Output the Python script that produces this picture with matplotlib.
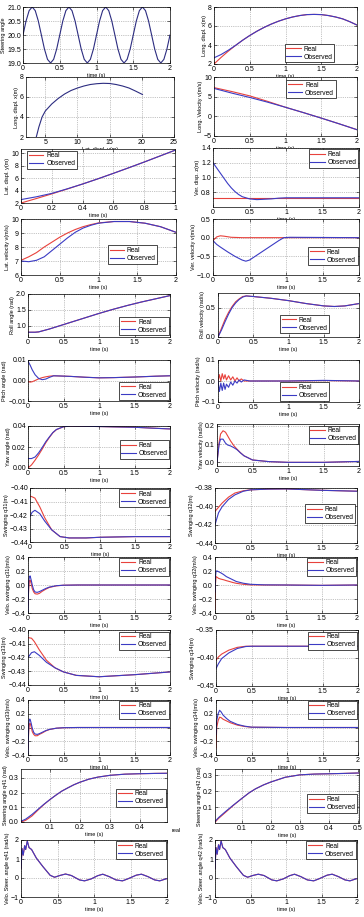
import numpy as np
import matplotlib
matplotlib.use('Agg')
import matplotlib.pyplot as plt

plt.rcParams['font.family'] = ['Liberation Sans', 'DejaVu Sans']

# ---------------- data ----------------
# row 1 left: steering angle vs time
t_steer = np.linspace(0, 2, 49)
steer = [20, 20.5, 20.87, 21, 20.87, 20.5, 20, 19.5, 19.13, 19, 19.13, 19.5,
         20, 20.5, 20.87, 21, 20.87, 20.5, 20, 19.5, 19.13, 19, 19.13, 19.5,
         20, 20.5, 20.87, 21, 20.87, 20.5, 20, 19.5, 19.13, 19, 19.13, 19.5,
         20, 20.5, 20.87, 21, 20.87, 20.5, 20, 19.5, 19.13, 19, 19.13, 19.5, 20]

# row 1 right: long. displ vs time
t_lx = [0, 0.1, 0.2, 0.3, 0.4, 0.5, 0.6, 0.7, 0.8, 0.9, 1.0, 1.1, 1.2, 1.3, 1.4, 1.5, 1.6, 1.7, 1.8, 1.9, 2.0]
lx_real = [2.0, 2.7, 3.35, 3.95, 4.5, 5.0, 5.45, 5.85, 6.2, 6.5, 6.75, 6.95, 7.1, 7.2, 7.22, 7.2, 7.1, 6.95, 6.75, 6.45, 6.1]
lx_obs = [2.65, 3.0, 3.45, 3.95, 4.5, 5.0, 5.45, 5.85, 6.2, 6.5, 6.75, 6.95, 7.1, 7.2, 7.22, 7.2, 7.1, 6.95, 6.75, 6.45, 6.1]

# row 2 left: long. displ vs lat. displ
traj_y = [3.6, 4.0, 4.5, 5, 6, 7, 8, 9, 10, 11, 12, 13, 14, 15, 16, 17, 18, 19, 20.1]
traj_x = [2.0, 3.0, 4.0, 4.6, 5.3, 5.85, 6.3, 6.65, 6.9, 7.1, 7.25, 7.33, 7.37, 7.35, 7.25, 7.1, 6.9, 6.6, 6.25]

# row 2 right: long. velocity
t_lv = [0, 0.25, 0.5, 0.75, 1.0, 1.25, 1.5, 1.75, 2.0]
lv_real = [7.3, 6.3, 5.2, 3.8, 2.3, 0.95, -0.45, -1.9, -3.4]
lv_obs = [7.1, 5.9, 4.8, 3.6, 2.3, 0.95, -0.45, -1.9, -3.4]

# row 3 left: lat. displ vs time
t_ly = [0, 0.1, 0.2, 0.3, 0.4, 0.5, 0.6, 0.7, 0.8, 0.9, 1.0]
ly_real = [2.0, 2.72, 3.47, 4.25, 5.06, 5.9, 6.78, 7.68, 8.6, 9.55, 10.5]
ly_obs = [2.55, 3.0, 3.55, 4.28, 5.06, 5.9, 6.78, 7.68, 8.6, 9.55, 10.5]

# row 3 right: vertical displ
t_vz_obs = [0, 0.05, 0.1, 0.15, 0.2, 0.25, 0.3, 0.35, 0.4, 0.5, 0.6, 0.7, 0.8, 0.9, 1.0, 2.0]
vz_obs = [1.2, 1.13, 1.06, 0.99, 0.92, 0.86, 0.81, 0.77, 0.74, 0.71, 0.7, 0.705, 0.71, 0.72, 0.725, 0.725]
t_vz_real = [0, 2.0]
vz_real = [0.725, 0.725]

# row 4 left: lat. velocity
t_latv = [0, 0.1, 0.2, 0.3, 0.4, 0.5, 0.6, 0.7, 0.8, 0.9, 1.0, 1.2, 1.4, 1.6, 1.8, 2.0]
latv_real = [7.05, 7.3, 7.6, 8.0, 8.35, 8.7, 9.0, 9.25, 9.45, 9.6, 9.72, 9.82, 9.82, 9.7, 9.45, 9.05]
latv_obs = [7.0, 6.95, 7.05, 7.3, 7.75, 8.2, 8.65, 9.05, 9.35, 9.55, 9.7, 9.82, 9.82, 9.7, 9.45, 9.05]

# row 4 right: vertical velocity
t_vv_obs = [0, 0.05, 0.1, 0.2, 0.3, 0.4, 0.45, 0.5, 0.6, 0.7, 0.8, 0.9, 0.97, 1.05, 2.0]
vv_obs = [-0.08, -0.18, -0.25, -0.38, -0.5, -0.6, -0.63, -0.6, -0.47, -0.34, -0.21, -0.08, 0.0, 0.01, 0.0]
t_vv_real = [0, 0.05, 0.1, 0.15, 0.25, 0.4, 2.0]
vv_real = [-0.08, 0.02, 0.05, 0.04, 0.01, 0.0, 0.0]

# row 5 left: roll angle
t_roll = [0, 0.1, 0.15, 0.2, 0.3, 0.4, 0.5, 0.6, 0.7, 0.8, 0.9, 1.0, 1.2, 1.4, 1.6, 1.8, 2.0]
roll = [0.8, 0.8, 0.81, 0.84, 0.9, 0.97, 1.04, 1.11, 1.18, 1.25, 1.32, 1.39, 1.52, 1.64, 1.75, 1.85, 1.95]

# row 5 right: roll velocity
t_rollv = [0, 0.05, 0.1, 0.15, 0.2, 0.25, 0.3, 0.35, 0.4, 0.5, 0.75, 1.0, 1.25, 1.5, 1.65, 1.8, 2.0]
rollv_real = [0, 0.15, 0.3, 0.42, 0.52, 0.6, 0.65, 0.69, 0.7, 0.69, 0.66, 0.62, 0.57, 0.53, 0.52, 0.53, 0.57]
rollv_obs = [0, 0.12, 0.26, 0.39, 0.5, 0.58, 0.64, 0.68, 0.7, 0.69, 0.66, 0.62, 0.57, 0.53, 0.52, 0.53, 0.57]

# row 6 left: pitch angle
t_pitch = [0, 0.03, 0.06, 0.1, 0.15, 0.2, 0.25, 0.3, 0.36, 0.45, 0.6, 0.8, 1.0, 1.2, 1.5, 1.8, 2.0]
pitch_real = [-0.0005, -0.0008, -0.0006, 0.0, 0.0008, 0.0014, 0.0018, 0.0021, 0.0023, 0.0022, 0.002,
              0.0016, 0.0013, 0.0014, 0.0017, 0.0021, 0.0023]
pitch_obs = [0.0095, 0.0075, 0.0052, 0.0028, 0.001, 0.0004, 0.0007, 0.0015, 0.0023, 0.0022, 0.002,
             0.0016, 0.0013, 0.0014, 0.0017, 0.0021, 0.0023]

# row 6 right: pitch velocity
t_pv = [0, 0.02, 0.04, 0.06, 0.08, 0.1, 0.12, 0.15, 0.18, 0.21, 0.24, 0.27, 0.3, 0.33, 0.37, 0.45, 1.0, 1.5, 2.0]
pv_real = [0, 0.03, 0.0, 0.035, 0.01, 0.03, 0.005, 0.025, 0.005, 0.02, 0.0, 0.015, 0.0, 0.01, 0.0, 0.0, 0.0, 0.002, 0.0]
pv_obs = [0, -0.05, -0.01, -0.045, -0.01, -0.04, -0.015, -0.03, -0.005, -0.02, 0.0, -0.01, 0.005, -0.005,
          0.005, 0.0, 0.0, 0.003, 0.0]

# row 7 left: yaw angle
t_yaw = [0, 0.05, 0.1, 0.15, 0.2, 0.25, 0.3, 0.35, 0.4, 0.5, 0.6, 0.8, 1.0, 1.2, 1.5, 1.8, 2.0]
yaw_real = [0, 0.003, 0.0075, 0.0125, 0.018, 0.024, 0.029, 0.0335, 0.0365, 0.0393, 0.04, 0.0398, 0.0395,
            0.0392, 0.0388, 0.0378, 0.0372]
yaw_obs = [0.009, 0.009, 0.0105, 0.0145, 0.0195, 0.025, 0.0295, 0.0338, 0.0367, 0.0393, 0.04, 0.0398, 0.0395,
           0.0392, 0.0388, 0.0378, 0.0372]

# row 7 right: yaw velocity
t_yv = [0, 0.03, 0.05, 0.085, 0.12, 0.15, 0.19, 0.24, 0.28, 0.33, 0.38, 0.5, 0.73, 1.0, 1.5, 2.0]
yv_real = [0, 0.11, 0.155, 0.173, 0.165, 0.145, 0.118, 0.09, 0.073, 0.053, 0.036, 0.013, 0.004, 0.0, 0.0, 0.005]
yv_obs = [0, 0.1, 0.127, 0.127, 0.105, 0.095, 0.09, 0.08, 0.07, 0.052, 0.036, 0.013, 0.004, 0.0, 0.0, 0.005]

# row 8: swinging q31 / q32
t_q = [0, 0.03, 0.07, 0.14, 0.21, 0.31, 0.43, 0.56, 0.8, 1.0, 1.5, 2.0]
q31_real = [-0.406, -0.4065, -0.4075, -0.414, -0.422, -0.431, -0.436, -0.437, -0.437, -0.4365, -0.436, -0.436]
q31_obs = [-0.421, -0.418, -0.4165, -0.419, -0.4245, -0.431, -0.436, -0.437, -0.437, -0.4365, -0.436, -0.436]
t_q2 = [0, 0.05, 0.1, 0.19, 0.28, 0.4, 0.5, 0.75, 1.0, 1.5, 2.0]
q32_real = [-0.4055, -0.401, -0.3965, -0.39, -0.3855, -0.383, -0.382, -0.3812, -0.381, -0.3825, -0.3835]
q32_obs = [-0.42, -0.407, -0.4005, -0.3925, -0.3875, -0.3835, -0.382, -0.3812, -0.381, -0.3825, -0.3835]

# row 9: velocity of q31 / q32
t_dq = [0, 0.01, 0.02, 0.03, 0.045, 0.06, 0.08, 0.1, 0.13, 0.16, 0.2, 0.25, 0.3, 0.4, 0.5, 0.7, 1.0, 2.0]
dq31_real = [-0.28, -0.05, 0.06, 0.07, 0.02, -0.05, -0.1, -0.125, -0.13, -0.12, -0.09, -0.06, -0.035, -0.012,
             -0.003, 0, 0, 0]
dq31_obs = [-0.38, 0.05, 0.12, 0.13, 0.07, 0.0, -0.07, -0.1, -0.105, -0.095, -0.075, -0.05, -0.03, -0.01,
            -0.003, 0, 0, 0]
t_dq2 = [0, 0.005, 0.015, 0.03, 0.05, 0.08, 0.12, 0.16, 0.21, 0.25, 0.3, 0.4, 0.5, 0.7, 1.0, 1.5, 2.0]
dq32_real = [-0.35, 0.0, 0.12, 0.11, 0.095, 0.085, 0.075, 0.062, 0.048, 0.036, 0.024, 0.01, 0.002, 0, 0, -0.005, 0]
dq32_obs = [-0.1, 0.1, 0.2, 0.2, 0.19, 0.175, 0.15, 0.12, 0.095, 0.075, 0.05, 0.025, 0.01, 0.002, 0, -0.005, 0]

# row 10: swinging q33 / q34
t_q3 = [0, 0.05, 0.09, 0.16, 0.26, 0.38, 0.5, 0.68, 1.0, 1.5, 2.0]
q33_real = [-0.4055, -0.406, -0.4085, -0.4145, -0.422, -0.4275, -0.4305, -0.433, -0.434, -0.4325, -0.4305]
q33_obs = [-0.42, -0.4165, -0.4158, -0.4185, -0.4235, -0.4275, -0.4305, -0.433, -0.434, -0.4325, -0.4305]
t_q4 = [0, 0.035, 0.08, 0.18, 0.3, 0.42, 0.5, 1.0, 1.5, 2.0]
q34_real = [-0.404, -0.398, -0.393, -0.386, -0.381, -0.379, -0.379, -0.379, -0.379, -0.379]
q34_obs = [-0.419, -0.41, -0.401, -0.391, -0.383, -0.3795, -0.379, -0.379, -0.379, -0.379]

# row 11: velocity of q33 / q34
dq33_real = [-0.3, -0.05, 0.05, 0.06, 0.01, -0.06, -0.1, -0.12, -0.12, -0.1, -0.08, -0.05, -0.03, -0.01,
             -0.003, 0, 0, 0]
dq33_obs = [-0.38, 0.05, 0.12, 0.12, 0.06, -0.01, -0.07, -0.095, -0.1, -0.09, -0.07, -0.045, -0.028, -0.01,
            -0.003, 0, 0, 0]
t_dq4 = [0, 0.01, 0.03, 0.05, 0.07, 0.1, 0.15, 0.2, 0.3, 0.4, 0.5, 1.0, 2.0]
dq34_real = [-0.3, 0.0, 0.1, 0.15, 0.145, 0.12, 0.095, 0.07, 0.035, 0.015, 0.004, 0, 0]
dq34_obs = [-0.1, 0.1, 0.2, 0.25, 0.23, 0.18, 0.13, 0.09, 0.045, 0.02, 0.005, 0, 0]

# row 12: steering angle q41 / q42
t_st = [0.004, 0.02, 0.04, 0.06, 0.08, 0.1, 0.12, 0.14, 0.16, 0.18, 0.2, 0.23, 0.26, 0.3, 0.35, 0.4, 0.45, 0.49]
q41_real = [0.0, 0.012, 0.04, 0.08, 0.118, 0.152, 0.182, 0.21, 0.232, 0.253, 0.27, 0.291, 0.305, 0.317,
            0.325, 0.328, 0.33, 0.331]
q41_obs = [0.005, 0.02, 0.05, 0.085, 0.12, 0.152, 0.182, 0.21, 0.232, 0.253, 0.27, 0.291, 0.305, 0.317,
           0.325, 0.328, 0.33, 0.331]
t_st2 = [0.007, 0.02, 0.042, 0.07, 0.1, 0.125, 0.147, 0.175, 0.2, 0.25, 0.3, 0.35, 0.4, 0.45, 0.505]
q42_real = [0.005, 0.03, 0.065, 0.11, 0.155, 0.19, 0.215, 0.24, 0.258, 0.288, 0.303, 0.308, 0.31, 0.312, 0.315]
q42_obs = [0.01, 0.035, 0.07, 0.112, 0.155, 0.19, 0.215, 0.24, 0.258, 0.288, 0.303, 0.308, 0.31, 0.312, 0.315]

# row 13: steering angle velocity q41 / q42
t_dst = [0, 0.014, 0.03, 0.05, 0.064, 0.086, 0.11, 0.145, 0.21, 0.3, 0.4, 0.46, 0.53, 0.61, 0.69, 0.8, 0.87,
         0.96, 1.05, 1.12, 1.21, 1.3, 1.39, 1.46, 1.58, 1.65, 1.74, 1.83, 1.9, 2.0]
dq41 = [0.5, 1.55, 1.2, 1.7, 1.5, 1.95, 1.6, 1.5, 1.05, 0.6, 0.14, 0.04, 0.13, 0.21, 0.13, -0.1, -0.15,
        -0.05, 0.12, 0.2, 0.07, -0.1, -0.15, -0.05, 0.15, 0.2, 0.07, -0.1, -0.15, -0.03]
dq42 = [0.5, 1.6, 1.25, 1.75, 1.5, 1.95, 1.6, 1.5, 1.05, 0.6, 0.14, 0.04, 0.13, 0.2, 0.13, -0.1, -0.15,
        -0.05, 0.12, 0.2, 0.07, -0.1, -0.15, -0.05, 0.15, 0.2, 0.07, -0.1, -0.15, -0.03]

# ---------------- drawing ----------------
RED = '#e8423c'
BLUE = '#3b3bc4'
NAVY = '#2c2c80'
W, H = 364.0, 917.0

fig = plt.figure(figsize=(3.64, 9.17), dpi=100)
fig.patch.set_facecolor('white')


def panel(box, ylabel, xlabel, xlim, ylim, xticks, yticks, curves, leg=None, xtl=None):
    x0, x1, top, bot = box
    ax = fig.add_axes([x0 / W, 1 - bot / H, (x1 - x0) / W, (bot - top) / H])
    for xs, ys, c in curves:
        ax.plot(xs, ys, color=c, lw=0.8)
    ax.set_xlim(xlim)
    ax.set_ylim(ylim)
    ax.set_xticks(xticks)
    if xtl is not None:
        ax.set_xticklabels(xtl)
    ax.set_yticks(yticks)
    ax.grid(True, ls=':', color='#8c8c8c', lw=0.5)
    ax.tick_params(direction='in', length=2, width=0.4, labelsize=5, pad=1.5, top=True, right=True)
    for s in ax.spines.values():
        s.set_linewidth(0.5)
    ax.set_ylabel(ylabel, fontsize=4, labelpad=1)
    if xlabel:
        ax.set_xlabel(xlabel, fontsize=4, labelpad=1)
    if leg is not None:
        loc, anchor = leg
        lg = ax.legend(['Real', 'Observed'], loc=loc, bbox_to_anchor=anchor, fontsize=4.8, frameon=True,
                       fancybox=False, edgecolor='black', framealpha=1, handlelength=2.2,
                       handletextpad=0.4, borderpad=0.25, labelspacing=0.15, borderaxespad=0)
        lg.get_frame().set_linewidth(0.5)
    return ax


T2 = [0, 0.5, 1, 1.5, 2]
TL2 = ['0', '0.5', '1', '1.5', '2']
ts = 'time (s)'

panel((23, 170, 7, 63), 'Steering angle', ts, (0, 2), (19, 21), T2, [19, 19.5, 20, 20.5, 21],
      [(t_steer, steer, NAVY)], xtl=TL2)
panel((214, 357, 7, 64), 'Long. displ. x(m)', ts, (0, 2), (2, 8), T2, [2, 4, 6, 8],
      [(t_lx, lx_real, RED), (t_lx, lx_obs, BLUE)], ('lower right', (0.84, 0.03)), xtl=TL2)
panel((26, 174, 77, 137), 'Long. displ. x(m)', 'Lat. displ. y(m)', (2, 25), (2, 8), [5, 10, 15, 20, 25],
      [2, 4, 6, 8], [(traj_y, traj_x, NAVY)])
panel((214, 357, 77, 136), 'Long. Velocity v(m/s)', ts, (0, 2), (-5, 10), T2, [-5, 0, 5, 10],
      [(t_lv, lv_real, RED), (t_lv, lv_obs, BLUE)], ('upper right', (0.85, 0.95)), xtl=TL2)
panel((21, 175, 149, 203), 'Lat. displ. y(m)', ts, (0, 1), (2, 10.7), [0, 0.2, 0.4, 0.6, 0.8, 1],
      [2, 4, 6, 8, 10], [(t_ly, ly_real, RED), (t_ly, ly_obs, BLUE)], ('upper left', (0.04, 0.97)),
      xtl=['0', '0.2', '0.4', '0.6', '0.8', '1'])
panel((213, 359, 148, 207), 'Ver. disp. z(m)', ts, (0, 2), (0.6, 1.4), T2, [0.8, 1, 1.2, 1.4],
      [(t_vz_real, vz_real, RED), (t_vz_obs, vz_obs, BLUE)], ('upper right', (0.995, 0.98)), xtl=TL2)
panel((21, 176, 219, 275), 'Lat. velocity v(m/s)', ts, (0, 2), (6, 10), T2, [6, 7, 8, 9, 10],
      [(t_latv, latv_real, RED), (t_latv, latv_obs, BLUE)], ('lower right', (0.88, 0.2)), xtl=TL2)
panel((213, 359, 219, 275), 'Ver. velocity v(m/s)', ts, (0, 2), (-1, 0.5), T2, [-1, -0.5, 0, 0.5],
      [(t_vv_real, vv_real, RED), (t_vv_obs, vv_obs, BLUE)], ('lower right', (0.99, 0.17)), xtl=TL2)
panel((28, 170, 294, 337), 'Roll angle (rad)', ts, (0, 2), (0.65, 2), T2, [1, 1.5, 2],
      [(t_roll, roll, RED), (t_roll, roll, BLUE)], ('lower right', (0.99, 0.04)), xtl=TL2)
panel((218, 359, 293, 337), 'Roll velocity (rad/s)', ts, (0, 2), (0, 0.75), T2, [0, 0.5],
      [(t_rollv, rollv_real, RED), (t_rollv, rollv_obs, BLUE)], ('lower right', (0.79, 0.08)), xtl=TL2)
panel((28, 170, 360, 401), 'Pitch angle (rad)', ts, (0, 2), (-0.01, 0.01), T2, [-0.01, 0, 0.01],
      [(t_pitch, pitch_real, RED), (t_pitch, pitch_obs, BLUE)], ('lower right', (0.99, 0.02)), xtl=TL2)
panel((218, 359, 360, 402), 'Pitch velocity (rad/s)', ts, (0, 2), (-0.1, 0.1), T2, [-0.1, 0, 0.1],
      [(t_pv, pv_real, RED), (t_pv, pv_obs, BLUE)], ('lower right', (0.79, 0.03)), xtl=TL2)
panel((28, 170, 426, 468), 'Yaw angle (rad)', ts, (0, 2), (0, 0.04), T2, [0, 0.02, 0.04],
      [(t_yaw, yaw_real, RED), (t_yaw, yaw_obs, BLUE)], ('lower right', (0.995, 0.22)), xtl=TL2)
panel((217, 359, 424, 466), 'Yaw velocity (rad/s)', ts, (0, 2), (-0.02, 0.21), T2, [0, 0.1, 0.2],
      [(t_yv, yv_real, RED), (t_yv, yv_obs, BLUE)], ('upper right', (0.995, 0.96)), xtl=TL2)
panel((30, 170, 488, 542), 'Swinging q31(m)', ts, (0, 2), (-0.44, -0.4), T2, [-0.44, -0.43, -0.42, -0.41, -0.4],
      [(t_q, q31_real, RED), (t_q, q31_obs, BLUE)], ('upper right', (0.99, 0.98)), xtl=TL2)
panel((215, 357, 488, 543), 'Swinging q32(m)', ts, (0, 2), (-0.44, -0.38), T2, [-0.44, -0.42, -0.4, -0.38],
      [(t_q2, q32_real, RED), (t_q2, q32_obs, BLUE)], ('lower right', (0.985, 0.37)), xtl=TL2)
panel((28, 170, 557, 613), 'Velo. swinging q31(m/s)', ts, (0, 2), (-0.4, 0.4), T2, [-0.4, -0.2, 0, 0.2, 0.4],
      [(t_dq, dq31_real, RED), (t_dq, dq31_obs, BLUE)], ('upper right', (0.99, 0.99)), xtl=TL2)
panel((215, 357, 557, 613), 'Velo. swinging q32(m/s)', ts, (0, 2), (-0.4, 0.4), T2, [-0.4, -0.2, 0, 0.2, 0.4],
      [(t_dq2, dq32_real, RED), (t_dq2, dq32_obs, BLUE)], ('upper right', (0.995, 0.99)), xtl=TL2)
panel((28, 170, 630, 685), 'Swinging q33(m)', ts, (0, 2), (-0.44, -0.4), T2, [-0.44, -0.43, -0.42, -0.41, -0.4],
      [(t_q3, q33_real, RED), (t_q3, q33_obs, BLUE)], ('upper right', (0.99, 0.97)), xtl=TL2)
panel((216, 358, 630, 686), 'Swinging q34(m)', ts, (0, 2), (-0.45, -0.35), T2, [-0.45, -0.4, -0.35],
      [(t_q4, q34_real, RED), (t_q4, q34_obs, BLUE)], ('upper right', (0.995, 0.97)), xtl=TL2)
panel((28, 170, 700, 755), 'Velo. swinging q33(m/s)', ts, (0, 2), (-0.4, 0.4), T2, [-0.4, -0.2, 0, 0.2, 0.4],
      [(t_dq, dq33_real, RED), (t_dq, dq33_obs, BLUE)], ('upper right', (0.99, 0.99)), xtl=TL2)
panel((216, 358, 700, 755), 'Velo. swinging q34(m/s)', ts, (0, 2), (-0.4, 0.4), T2, [-0.4, -0.2, 0, 0.2, 0.4],
      [(t_dq4, dq34_real, RED), (t_dq4, dq34_obs, BLUE)], ('upper right', (0.995, 0.99)), xtl=TL2)
panel((21, 167, 769, 822), 'Steering angle q41 (rad)', ts, (0.004, 0.49), (0, 0.36), [0.1, 0.2, 0.3, 0.4],
      [0, 0.1, 0.2, 0.3], [(t_st, q41_real, RED), (t_st, q41_obs, BLUE)], ('lower right', (0.99, 0.28)))
panel((215, 359, 769, 823), 'Steering angle q42 (rad)', ts, (0.007, 0.505), (0, 0.34), [0.1, 0.2, 0.3, 0.4, 0.5],
      [0.1, 0.2, 0.3], [(t_st2, q42_real, RED), (t_st2, q42_obs, BLUE)], ('lower right', (0.985, 0.19)))
panel((21, 167, 840, 897), 'Velo. Steer. angle q41 (rad/s)', ts, (0, 2), (-1, 2), T2, [-1, 0, 1, 2],
      [(t_dst, dq41, RED), (t_dst, dq41, BLUE)], ('upper right', (0.99, 0.98)), xtl=TL2)
panel((215, 357, 840, 897), 'Velo. Steer. angle q42 (rad/s)', ts, (0, 2), (-1, 2), T2, [-1, 0, 1, 2],
      [(t_dst, dq42, RED), (t_dst, dq42, BLUE)], ('upper right', (0.99, 0.98)), xtl=TL2)

fig.text(172 / W, 1 - 831 / H, 'real', fontsize=4, va='center', ha='left')

fig.savefig('out.png', dpi=100, facecolor='white')
